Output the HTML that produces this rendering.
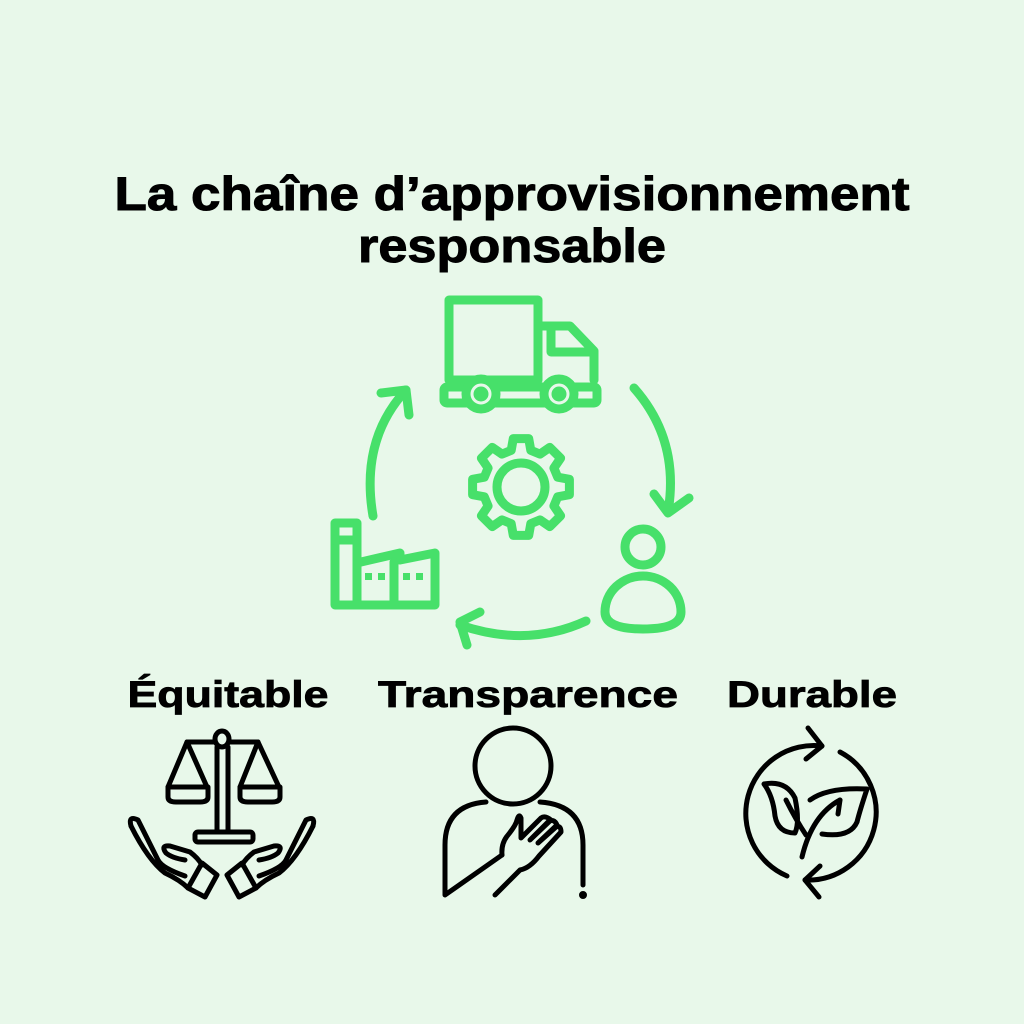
<!DOCTYPE html>
<html><head><meta charset="utf-8"><style>
html,body{margin:0;padding:0;background:#e8f8ea;}
svg{display:block}
text{font-family:"Liberation Sans",sans-serif;font-weight:bold;fill:#000}
</style></head><body>
<svg width="1024" height="1024" viewBox="0 0 1024 1024" xmlns="http://www.w3.org/2000/svg">
<rect width="1024" height="1024" fill="#e8f8ea"/>
<text x="512" y="210" font-size="47" text-anchor="middle" textLength="795" lengthAdjust="spacingAndGlyphs" stroke="#000" stroke-width="1">La chaîne d’approvisionnement</text>
<text x="512" y="262" font-size="47" text-anchor="middle" textLength="308" lengthAdjust="spacingAndGlyphs" stroke="#000" stroke-width="1">responsable</text>

<g fill="none" stroke="#47e06a" stroke-width="9" stroke-linecap="round" stroke-linejoin="round">
 <rect x="449" y="300" width="89" height="80"/>
 <path d="M542,326 L570,326 L594,351 L594,380"/>
 <path d="M551,326 L551,352 L594,352"/>
 <rect x="444" y="387" width="153" height="16" rx="3"/>
 <circle cx="481" cy="394" r="15" fill="#e8f8ea"/>
 <circle cx="559" cy="394" r="15" fill="#e8f8ea"/>
 <circle cx="481" cy="394" r="3" fill="#47e06a"/>
 <circle cx="559" cy="394" r="3" fill="#47e06a"/>
 <path d="M634,388 Q680,440 668,512"/>
 <path d="M654,494 L668,513 L689,498"/>
 <path d="M586,621 Q527,648 460,625"/>
 <path d="M480,612 L460,622 L467,645"/>
 <path d="M373,516 Q360,440 406,390"/>
 <path d="M381,393 L406,390 L409,415"/>
 <circle cx="643" cy="547" r="18"/>
 <path d="M605,612 A38,36 0 0 1 681,612 Q681,629 643,629 Q605,629 605,612 Z"/>
 <path d="M335,523 L357,523 L357,605 M335,523 L335,605 L435,605 L435,553 L400,560 L400,553 L361,562"/>
 <path d="M335,540 L357,540"/>
 <path d="M394,562 L394,605"/>
 <circle cx="521" cy="487" r="24"/>
 <path d="M557.7,477.2 L569.4,479.3 L569.4,494.7 L557.7,496.8 L553.9,506.0 L560.6,515.8 L549.8,526.6 L540.0,519.9 L530.8,523.7 L528.7,535.4 L513.3,535.4 L511.2,523.7 L502.0,519.9 L492.2,526.6 L481.4,515.8 L488.1,506.0 L484.3,496.8 L472.6,494.7 L472.6,479.3 L484.3,477.2 L488.1,468.0 L481.4,458.2 L492.2,447.4 L502.0,454.1 L511.2,450.3 L513.3,438.6 L528.7,438.6 L530.8,450.3 L540.0,454.1 L549.8,447.4 L560.6,458.2 L553.9,468.0 Z"/>
</g>
<g fill="#47e06a">
 <rect x="365" y="573" width="7" height="7"/><rect x="378" y="573" width="7" height="7"/>
 <rect x="403" y="573" width="7" height="7"/><rect x="416" y="573" width="7" height="7"/>
</g>

<text x="228" y="707" font-size="37" text-anchor="middle" textLength="201" lengthAdjust="spacingAndGlyphs" stroke="#000" stroke-width="0.8">Équitable</text>
<text x="528" y="707" font-size="37" text-anchor="middle" textLength="300" lengthAdjust="spacingAndGlyphs" stroke="#000" stroke-width="0.8">Transparence</text>
<text x="812" y="707" font-size="37" text-anchor="middle" textLength="170" lengthAdjust="spacingAndGlyphs" stroke="#000" stroke-width="0.8">Durable</text>

<g fill="none" stroke="#000" stroke-width="5" stroke-linecap="round" stroke-linejoin="round">
 <!-- scales -->
 <ellipse cx="222" cy="739" rx="7" ry="8"/>
 <path d="M187,742 L215,742 M229,742 L258,742"/>
 <path d="M217,747 L217,832 M228,747 L228,832"/>
 <rect x="195" y="832" width="58" height="10" rx="3"/>
 <path d="M187,742 L168,787 M187,742 L207,787 M258,742 L240,787 M258,742 L279,787"/>
 <path d="M168,787 L208,787 L208,797 Q208,802 200,802 L176,802 Q168,802 168,797 Z"/>
 <path d="M240,787 L280,787 L280,797 Q280,802 272,802 L248,802 Q240,802 240,797 Z"/>
 <!-- left hand -->
 <path d="M131,826 Q128,815 138,820 L158,860 Q162,868 185,876"/>
 <path d="M131,826 Q148,860 165,873 Q180,880 188,888"/>
 <path d="M166,853 Q160,845 170,846 L190,852 Q198,858 202,865 M166,853 Q172,858 185,860"/>
 <path d="M202,863 L217,875 L205,897 L188,888 Z"/>
 <!-- right hand -->
 <path d="M313,826 Q316,815 306,820 L286,860 Q282,868 259,876"/>
 <path d="M313,826 Q296,860 279,873 Q264,880 256,888"/>
 <path d="M278,853 Q284,845 274,846 L254,852 Q246,858 242,865 M278,853 Q272,858 259,860"/>
 <path d="M242,863 L227,875 L239,897 L256,888 Z"/>
 <!-- person -->
 <ellipse cx="513" cy="766" rx="38" ry="38"/>
 <path d="M486,802 Q445,805 445,845 L445,895 L502,855"/>
 <path d="M540,802 Q583,805 583,845 L583,885"/>
 <circle cx="583" cy="895" r="1.5" fill="#000"/>
 <path d="M502,855 Q501,843 508,835 Q516,825 517,820 Q519,813 521,818 L521,838 L541,818 Q545,815 551,820 L530,840 L548,822 Q554,818 557,825 L538,843 L556,827 Q561,825 561,832 L539,856 Q530,868 520,870 L495,895"/>
 <!-- durable -->
 <path d="M822,746 A68,68 0 0 0 787,876"/>
 <path d="M840,752 A68,68 0 0 1 805,880"/>
 <path d="M808,728 L822,746 L806,759"/>
 <path d="M820,866 L805,880 L819,897"/>
 <path d="M802,857 Q812,815 840,800 M806,835 Q796,820 786,800"/>
 <path d="M764,784 Q786,780 795,798 Q800,822 795,833 Q778,833 775,816 Q773,796 764,784 Z"/>
 <path d="M810,800 Q828,787 867,789 Q860,810 857,822 Q850,838 822,834"/>
 <path d="M840,800 L838,814"/>
</g>
</svg>
</body></html>
